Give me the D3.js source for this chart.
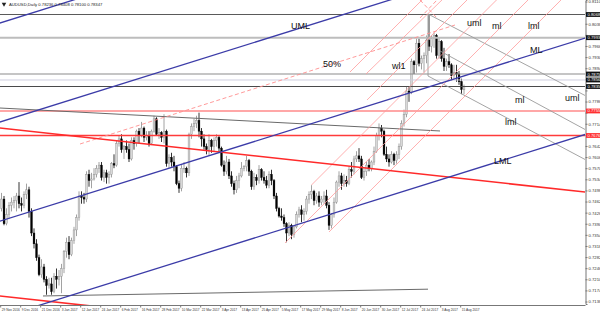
<!DOCTYPE html>
<html><head><meta charset="utf-8">
<script src="https://cdn.jsdelivr.net/npm/d3@7"></script>
<style>html,body{margin:0;padding:0;background:#fff;} svg{display:block;font-family:"Liberation Sans",Arial,sans-serif;}</style>
</head><body><svg id="c" width="600" height="313"></svg>
<script>
// ---- DATA (AUDUSD Daily, bar index 0 = 29 Nov 2016) ----
const opens = [.7440,.7470,.7390,.7420,.7450,.7460,.7465,.7480,.7455,.7450,.7485,.7500,.7430,.7360,.7325,.7280,.7225,.7250,.7210,.7190,.7195,.7170,.7220,.7210,.7220,.7245,.7300,.7330,.7290,.7335,.7370,.7410,.7480,.7475,.7470,.7550,.7530,.7535,.7550,.7570,.7580,.7540,.7555,.7540,.7550,.7585,.7580,.7650,.7665,.7630,.7640,.7630,.7600,.7660,.7650,.7690,.7675,.7700,.7670,.7675,.7650,.7690,.7730,.7680,.7685,.7670,.7690,.7585,.7605,.7590,.7575,.7520,.7505,.7570,.7570,.7555,.7680,.7705,.7715,.7725,.7690,.7665,.7640,.7630,.7660,.7640,.7660,.7670,.7635,.7580,.7560,.7590,.7545,.7520,.7500,.7530,.7545,.7570,.7575,.7595,.7560,.7510,.7540,.7530,.7565,.7540,.7530,.7515,.7550,.7530,.7480,.7440,.7415,.7410,.7390,.7360,.7385,.7355,.7380,.7420,.7435,.7420,.7430,.7470,.7485,.7495,.7465,.7480,.7460,.7470,.7480,.7450,.7385,.7420,.7460,.7525,.7545,.7520,.7530,.7520,.7565,.7560,.7600,.7610,.7600,.7540,.7560,.7580,.7570,.7590,.7625,.7675,.7700,.7690,.7615,.7600,.7590,.7615,.7595,.7615,.7640,.7715,.7745,.7820,.7815,.7915,.7905,.7975,.7910,.7925,.7935,.7985,.7965,.7990,.8000,.7935,.7980,.7925,.7900,.7915,.7905,.7870,.7880,.7875,.7850,.7824];
const highs = [.7490,.7480,.7440,.7460,.7475,.7480,.7490,.7525,.7475,.7495,.7520,.7510,.7440,.7375,.7340,.7290,.7275,.7260,.7220,.7215,.7215,.7230,.7245,.7240,.7260,.7305,.7345,.7350,.7345,.7380,.7420,.7495,.7495,.7490,.7560,.7565,.7555,.7570,.7580,.7590,.7590,.7565,.7565,.7560,.7590,.7615,.7660,.7675,.7680,.7645,.7660,.7650,.7670,.7670,.7695,.7700,.7720,.7705,.7690,.7690,.7695,.7740,.7735,.7700,.7690,.7745,.7695,.7615,.7620,.7610,.7580,.7530,.7580,.7590,.7575,.7685,.7715,.7730,.7740,.7750,.7700,.7680,.7650,.7680,.7665,.7670,.7680,.7675,.7640,.7595,.7610,.7600,.7560,.7530,.7545,.7555,.7590,.7580,.7610,.7600,.7565,.7555,.7550,.7580,.7570,.7560,.7545,.7560,.7565,.7535,.7490,.7445,.7440,.7420,.7395,.7395,.7390,.7385,.7430,.7445,.7450,.7440,.7480,.7495,.7515,.7500,.7490,.7495,.7480,.7495,.7500,.7460,.7425,.7475,.7530,.7560,.7555,.7550,.7545,.7575,.7590,.7610,.7625,.7635,.7610,.7570,.7590,.7600,.7595,.7640,.7685,.7715,.7710,.7695,.7640,.7615,.7625,.7620,.7625,.7650,.7725,.7760,.7835,.7835,.7925,.7920,.7990,.7990,.7935,.7945,.8000,.8066,.8000,.8010,.8005,.7995,.7985,.7960,.7925,.7940,.7910,.7905,.7905,.7885,.7860,.7841];
const lows = [.7430,.7385,.7385,.7405,.7430,.7440,.7430,.7440,.7430,.7440,.7470,.7410,.7350,.7310,.7270,.7220,.7215,.7200,.7160,.7180,.7160,.7165,.7180,.7190,.7165,.7230,.7280,.7275,.7285,.7325,.7350,.7400,.7455,.7455,.7460,.7510,.7505,.7530,.7540,.7555,.7530,.7525,.7520,.7520,.7540,.7570,.7575,.7640,.7620,.7600,.7620,.7590,.7595,.7630,.7640,.7650,.7670,.7655,.7660,.7640,.7645,.7685,.7675,.7665,.7655,.7650,.7575,.7570,.7575,.7560,.7515,.7490,.7495,.7555,.7540,.7545,.7665,.7690,.7700,.7670,.7640,.7630,.7615,.7610,.7620,.7625,.7640,.7620,.7575,.7545,.7550,.7535,.7510,.7485,.7490,.7505,.7540,.7560,.7560,.7545,.7500,.7500,.7515,.7520,.7530,.7520,.7505,.7505,.7515,.7470,.7430,.7410,.7400,.7380,.7330,.7350,.7340,.7345,.7375,.7410,.7395,.7400,.7420,.7455,.7470,.7450,.7455,.7445,.7450,.7455,.7440,.7370,.7375,.7410,.7455,.7510,.7500,.7510,.7510,.7515,.7540,.7550,.7590,.7590,.7535,.7530,.7545,.7560,.7560,.7580,.7620,.7660,.7670,.7610,.7590,.7575,.7585,.7580,.7585,.7600,.7630,.7705,.7735,.7785,.7810,.7875,.7880,.7900,.7890,.7880,.7910,.7950,.7945,.7960,.7925,.7925,.7915,.7885,.7885,.7895,.7855,.7860,.7850,.7840,.7810,.7810];
const closes = [.7470,.7390,.7420,.7450,.7460,.7465,.7480,.7455,.7450,.7485,.7500,.7430,.7360,.7325,.7280,.7225,.7250,.7210,.7190,.7195,.7170,.7220,.7210,.7220,.7245,.7300,.7330,.7290,.7335,.7370,.7410,.7480,.7475,.7470,.7550,.7530,.7535,.7550,.7570,.7580,.7540,.7555,.7540,.7550,.7585,.7580,.7650,.7665,.7630,.7640,.7630,.7600,.7660,.7650,.7690,.7675,.7700,.7670,.7675,.7650,.7690,.7730,.7680,.7685,.7670,.7690,.7585,.7605,.7590,.7575,.7520,.7505,.7570,.7570,.7555,.7680,.7705,.7715,.7725,.7690,.7665,.7640,.7630,.7660,.7640,.7660,.7670,.7635,.7580,.7560,.7590,.7545,.7520,.7500,.7530,.7545,.7570,.7575,.7595,.7560,.7510,.7540,.7530,.7565,.7540,.7530,.7515,.7550,.7530,.7480,.7440,.7415,.7410,.7390,.7360,.7385,.7355,.7380,.7420,.7435,.7420,.7430,.7470,.7485,.7495,.7465,.7480,.7460,.7470,.7480,.7450,.7385,.7420,.7460,.7525,.7545,.7520,.7530,.7520,.7565,.7560,.7600,.7610,.7600,.7540,.7560,.7580,.7570,.7590,.7625,.7675,.7700,.7690,.7615,.7600,.7590,.7615,.7595,.7615,.7640,.7715,.7745,.7820,.7815,.7915,.7905,.7975,.7910,.7925,.7935,.7985,.7965,.7990,.8000,.7935,.7980,.7925,.7900,.7915,.7905,.7870,.7880,.7875,.7850,.7825,.7835];

const dateLabels = ["29 Nov 2016","9 Dec 2016","21 Dec 2016","3 Jan 2017","12 Jan 2017","24 Jan 2017","6 Feb 2017","16 Feb 2017","28 Feb 2017","10 Mar 2017","22 Mar 2017","3 Apr 2017","13 Apr 2017","25 Apr 2017","5 May 2017","17 May 2017","29 May 2017","8 Jun 2017","20 Jun 2017","30 Jun 2017","12 Jul 2017","24 Jul 2017","3 Aug 2017","15 Aug 2017"];
const dateLabelBars = [0,8,16,24,32,40,48,56,64,72,80,88,96,104,112,120,128,136,144,152,160,168,176,184];
const priceTicks = [0.8110,0.8074,0.8038,0.8002,0.7966,0.7930,0.7894,0.7858,0.7822,0.7786,0.7750,0.7714,0.7678,0.7642,0.7606,0.7570,0.7534,0.7498,0.7462,0.7426,0.7390,0.7354,0.7318,0.7282,0.7246,0.7210,0.7174,0.7138];

// horizontal levels
const levelPrices = [0.80680,0.79929,0.78752,0.78558,0.78347,0.77554,0.76760];
const levelLabels = ["0.8068","0.7993","0.7875","0.7856","0.7835","0.7755","0.7676"];
// lines: [barIndex1, price1, barIndex2, price2]
const blueLines = [[-1,0.80395,234,0.86353],[-1,0.77187,234,0.83143],[-1,0.73977,234,0.79932],[-1,0.70850,234,0.76808]];
const redTrendLines = [[-1,0.77006,234,0.74923],[-1,0.71563,234,0.69483]];
const grayTrendLines = [[-1,0.77652,175.4,0.76906],[16.6,0.71560,170.6,0.71780]];
const redForkLines = [[139.4,0.78817,169.0,0.81215],[145.8,0.78752,177.0,0.81215],[146.2,0.77910,187.0,0.81215],[124,0.75156,198.8,0.81215],[113.4,0.73277,211.4,0.81215],[131,0.73633,224.6,0.81215]];
const grayForkLines = [[170.6,0.80696,233.8,0.78040],[175.4,0.79498,233.8,0.76938],[170.6,0.78688,233.8,0.75966],[170.6,0.80696,170.6,0.78688]];
const dashedLines = [[31.4,0.76484,181.4,0.80340],[167.4,0.81150,174.2,0.80567],[167.4,0.80567,174.2,0.81150]];
// annotations: [text, barIndex, price]
const annotations = [["UML",115.8,0.80210],["50%",128.6,0.78979],["wl1",156.2,0.78914],["uml",186.2,0.80308],["ml",196.2,0.80210],["lml",210.6,0.80210],["ML",211.4,0.79433],["ml",205.4,0.77813],["uml",225.4,0.77878],["lml",201.4,0.77100],["LML",197.0,0.75836]];
const title = "AUDUSD,Daily  0.78236 0.78408 0.78100 0.78347";

// ---- DRAW ----
const W = 585, H = 305;
const svg = d3.select("#c");
const x = d3.scaleLinear().domain([0, 1]).range([1.5, 4.0]);
const y = d3.scaleLinear().domain([0.7130, 0.8115]).range([304, 0]);

svg.append("defs").append("clipPath").attr("id","clip").append("rect").attr("x",0).attr("y",0).attr("width",W).attr("height",H);
const plot = svg.append("g").attr("clip-path","url(#clip)");

// candles
const bars = d3.range(opens.length).map(i => ({i, o:opens[i], h:highs[i], l:lows[i], c:closes[i]}));
const cg = plot.append("g");
cg.selectAll("line.w").data(bars).join("line")
  .attr("x1", d => x(d.i)).attr("x2", d => x(d.i))
  .attr("y1", d => y(d.h)).attr("y2", d => y(d.l))
  .attr("stroke", d => d.c >= d.o ? "#8a8a8a" : "#000").attr("stroke-width", 0.8);
cg.selectAll("rect.b").data(bars).join("rect")
  .attr("x", d => x(d.i) - 0.9).attr("width", 1.8)
  .attr("y", d => y(Math.max(d.o, d.c)))
  .attr("height", d => Math.max(0.8, Math.abs(y(d.o) - y(d.c))))
  .attr("fill", d => d.c >= d.o ? "#d8d8d8" : "#000")
  .attr("stroke", d => d.c >= d.o ? "#8a8a8a" : "#000").attr("stroke-width", 0.4);

const seg = (g, data, color, width, dash) => g.selectAll(null).data(data).join("line")
  .attr("x1", d => x(d[0])).attr("y1", d => y(d[1])).attr("x2", d => x(d[2])).attr("y2", d => y(d[3]))
  .attr("stroke", color).attr("stroke-width", width).attr("stroke-dasharray", dash || null);

// horizontal levels
const levelStyles = [["#5a5a5a",1],["#bdbdbd",2],["#8c8c8c",1.2],["#cfcfe0",1],["#4a4a4a",1.2],["#ff8a8a",1.6],["#ff3b3b",1.4]];
plot.selectAll("line.lv").data(levelPrices).join("line")
  .attr("x1",0).attr("x2",W).attr("y1", d => y(d)).attr("y2", d => y(d))
  .attr("stroke",(d,k)=>levelStyles[k][0]).attr("stroke-width",(d,k)=>levelStyles[k][1]);

const lg = plot.append("g");
seg(lg, grayTrendLines, "#6a6a6a", 1);
seg(lg, grayForkLines, "#9a9a9a", 0.9);
seg(lg, redForkLines, "#ff9c9c", 0.8);
seg(lg, dashedLines, "#ff8f8f", 0.9, "4,2.5");
seg(lg, redTrendLines, "#ff2a2a", 1.6);
seg(lg, blueLines, "#3c3ca8", 1.3);

// annotations
plot.selectAll("text.an").data(annotations).join("text")
  .attr("x", d => x(d[1])).attr("y", d => y(d[2]))
  .attr("font-size", 9).attr("fill", "#111").text(d => d[0]);

// title
svg.append("path").attr("d", d3.symbol(d3.symbolTriangle, 9)()).attr("transform","translate(4,4) rotate(180)").attr("fill","#222");
svg.append("text").attr("x",9).attr("y",6).attr("font-size",4.2).attr("fill","#222").text(title);

// right axis (tick labels hidden where a highlighted level label sits)
const visibleTicks = priceTicks.filter(t => levelPrices.every(l => Math.abs(y(t) - y(l)) > 4.6));
const ya = svg.append("g").attr("transform",`translate(${W+0.5},0)`)
  .call(d3.axisRight(y).tickValues(priceTicks).tickFormat(t => visibleTicks.includes(t) ? d3.format(".4f")(t) : "").tickSize(2).tickPadding(1));
ya.select(".domain").attr("stroke","#777").attr("stroke-width",1);
ya.selectAll(".tick line").attr("stroke","#777");
ya.selectAll("text").attr("font-size",4.2).attr("fill","#333").attr("font-family",'"Liberation Sans",Arial,sans-serif');

// highlighted level labels
const boxColors = ["#111","#111","#111","#111","#111","#ff3030","#ff3030"];
const hb = svg.append("g");
hb.selectAll("rect").data(levelPrices).join("rect")
  .attr("x", W+1).attr("y", d => y(d) - 2.4).attr("width", 14).attr("height", 4.8)
  .attr("fill", (d,k)=>boxColors[k]);
hb.selectAll("text").data(levelPrices).join("text")
  .attr("x", W+2.5).attr("y", d => y(d) + 1.5).attr("font-size",4.2).attr("fill","#fff")
  .text((d,k)=>levelLabels[k]);

// bottom axis
const xa = svg.append("g").attr("transform",`translate(0,${H+0.5})`)
  .call(d3.axisBottom(x).tickValues(dateLabelBars).tickFormat((d,k)=>dateLabels[k]).tickSize(2).tickPadding(1));
xa.select(".domain").attr("d", `M0,0H${W+0.5}`).attr("stroke","#777");
xa.selectAll(".tick").attr("transform", d => `translate(${x(d)-0.8},0)`);
xa.selectAll(".tick line").attr("stroke","#777");
xa.selectAll("text").attr("font-size",3.2).attr("fill","#333").attr("text-anchor","start").attr("dx",1)
  .attr("font-family",'"Liberation Sans",Arial,sans-serif');
</script></body></html>
